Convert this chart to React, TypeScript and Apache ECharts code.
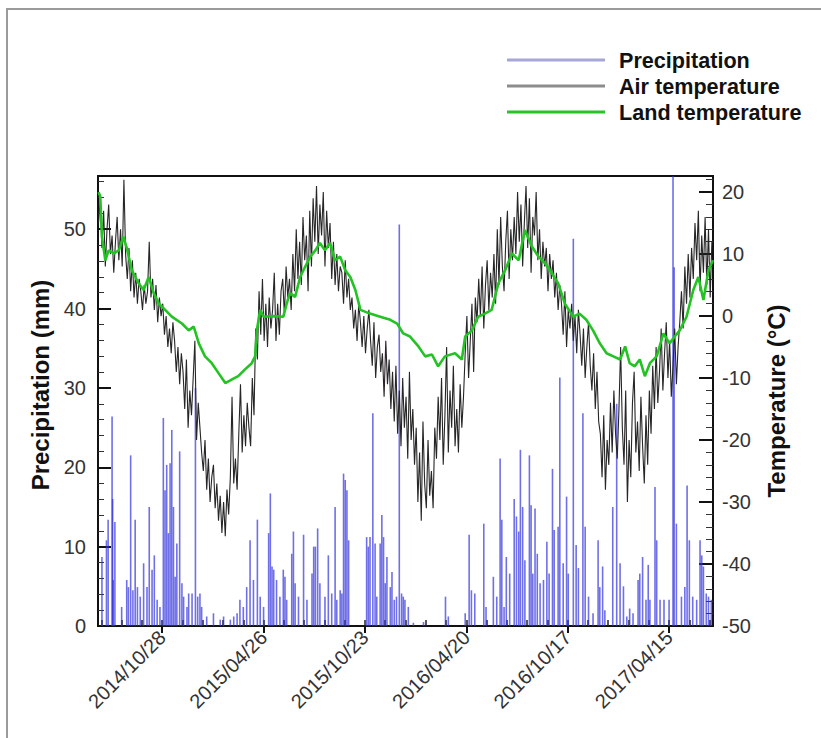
import React, { useEffect, useRef } from "react";
import * as echarts from "echarts";

// Day 0 = 2014/10/28 ; x values are day offsets from that date
const BASE_DATE_UTC = Date.UTC(2014, 9, 28);
const DAY_MIN = -114;
const DAY_MAX = 978;
const labelDays = [0, 180, 360, 540, 720, 900];

// Air temperature (°C), read every 3 days starting at day -113
const airStartDay = -113;
const airStepDays = 3;
const airTemp = [
  15, 19, 11, 17, 8, 14, 18, 10, 13, 7,
  12, 16, 9, 14, 8, 22, 10, 6, 11, 4,
  9, 3, 7, 2, 6, 4, 1, 5, 2, 4,
  12, 3, 6, 1, 5, -1, 3, 0, 2, -3,
  0, -5, -2, -6, -1, -4, -9, -5, -11, -6,
  -9, -15, -7, -18, -12, -16, -10, -4, -20, -14,
  -18, -22, -25, -20, -28, -23, -30, -26, -24, -31,
  -27, -33, -29, -35, -30, -35.5, -28, -32, -26, -13,
  -27, -23, -28, -19, -11, -22, -16, -21, -14, -18,
  -21, -10, -16, -2, -7, 4, -3, 6, -4, 2,
  -5, 3, -2, 1, 7, -4, 2, -3, 4, 6,
  0, 8, 3, 6, 1, 10, 4, 14, 6, 12,
  5, 16, 9, 13, 4, 17, 8, 19, 12, 21,
  10, 18, 13, 20, 8, 17, 11, 15, 6, 12,
  5, 10, 4, 8, 7, 2, 9, 3, 6, 1,
  3, -2, 1, -4, 2, -1, -5, 0, -6, -2,
  1, -4, -8, -1, -10, -5, -3, -9, -6, -13,
  -4, -11, -7, -15, -9, -17, -8, -19, -12, -21,
  -10, -18, -13, -23, -9, -20, -15, -24, -18, -30,
  -22, -33, -17, -27, -31, -20, -29, -25, -31, -18,
  -23, -13, -20, -10, -24, -16, -5, -22, -12, -18,
  -8, -21, -15, -22, -11, -18, -13, -6, 0, -10,
  -4, 2, -9, 3, -1, 6, 0, 8, -2, 5,
  9, 1, 7, 3, 10, 2, 14, 5, 16, 8,
  4, 12, 17, 6, 14, 9, 16, 10, 20, 12,
  18, 8, 15, 21, 11, 19, 7, 16, 13, 20,
  9, 14, 6, 12, 8, 11, 4, 10, 6, 9,
  3, 7, 1, 5, 2, -3, 4, -5, 1, -2,
  2, -4, 0, -6, 1, -3, -8, -2, -10, -5,
  -1, -8, -12, -6, -15, -9, -17, -19, -26, -16,
  -28, -20, -24, -14, -22, -12, -19, -23, -15, -5,
  -18, -24, -12, -30, -20, -26, -14, -9, -22, -17,
  -25, -13, -21, -27, -16, -24, -12, -19, -8, -15,
  -5, -14, -9, -2, -12, -6, -1, -10, -4, -13,
  -8, -2, -11, -5, -1, 4, -2, 8, 2, 10,
  3, 11, 6, 15, 9, 17, 4, 13, 7, 16,
  5, 14, 3, 12,
];

// Land temperature (°C): [day, value]
const landTemp: [number, number][] = [
  [-113, 20], [-110, 19.3], [-107, 12.8], [-101, 9.0], [-95, 10.6], [-86, 10.1],
  [-77, 10.6], [-69, 12.8], [-63, 11.0], [-54, 7.4], [-42, 5.3], [-33, 4.2],
  [-24, 6.3], [-15, 3.7], [-6, 2.0], [0, 1.5], [17, -0.1], [35, -1.2],
  [47, -2.3], [56, -1.7], [65, -4.4], [76, -6.5], [88, -7.6], [100, -9.2],
  [112, -10.8], [124, -10.2], [135, -9.7], [147, -8.6], [159, -7.6], [165, -6.5],
  [168, -2.3], [174, 1.0], [180, -0.1], [198, 0.0], [215, -0.1], [221, 2.0],
  [227, 3.7], [236, 3.1], [245, 6.3], [254, 8.0], [263, 9.6], [272, 10.6],
  [280, 11.8], [289, 10.6], [298, 11.8], [307, 9.0], [316, 9.6], [325, 7.4],
  [334, 6.3], [343, 4.2], [352, 1.0], [369, 0.4], [387, -0.1], [405, -0.6],
  [417, -1.2], [428, -2.8], [440, -3.3], [455, -4.9], [467, -6.5], [479, -6.2],
  [490, -8.1], [502, -6.5], [520, -6.0], [532, -7.0], [538, -3.3], [550, -2.3],
  [561, -0.1], [573, 0.4], [585, 1.0], [597, 5.3], [609, 7.4], [621, 10.1],
  [633, 9.0], [644, 13.9], [656, 11.3], [668, 9.6], [680, 8.5], [692, 6.9],
  [703, 5.3], [715, 2.0], [730, -0.1], [741, 0.4], [753, -0.6], [765, -2.3],
  [777, -4.4], [789, -6.0], [801, -6.5], [813, -7.0], [822, -4.9], [830, -7.6],
  [839, -8.1], [848, -7.0], [857, -9.7], [866, -7.6], [878, -6.5], [890, -2.8],
  [901, -4.4], [910, -3.3], [919, -2.3], [931, -0.1], [943, 4.2], [952, 6.3],
  [961, 2.6], [970, 7.4], [978, 9.0],
];

// Precipitation (mm): [day, value]
const precipitation: [number, number][] = [
  [-107, 8.7], [-99, 10.8], [-96, 13.4], [-89, 26.4], [-88, 16], [-87, 5.8], [-84, 13.1],
  [-72, 2.4], [-63, 5.8], [-60, 4.9], [-56, 21.5], [-52, 4.5], [-48, 13.4], [-44, 4.9],
  [-39, 3.7], [-33, 7.9], [-27, 4.9], [-23, 15], [-18, 7.1], [-14, 8.9], [-9, 3.3],
  [-4, 2.4], [2, 26.2], [5, 17.1], [8, 20.3], [11, 11.7], [14, 20.5], [17, 24.7],
  [20, 15], [23, 6.2], [26, 10.4], [31, 22], [35, 5.4], [38, 3.7], [44, 2.4], [47, 4.1],
  [53, 4.1], [59, 30], [63, 3.7], [67, 4.1], [70, 2.4], [79, 1.2], [91, 1.6], [103, 0.8],
  [109, 1.2], [121, 0.8], [127, 1.2], [133, 1.6], [138, 3.3], [144, 2.4], [150, 4.9],
  [156, 10.8], [162, 5.8], [169, 13.4], [174, 3.7], [180, 2.4], [189, 11.7], [192, 16.7],
  [195, 7.5], [198, 7.1], [203, 5.8], [209, 3.7], [215, 7.1], [218, 6.2], [221, 3.3],
  [230, 9.1], [233, 11.9], [236, 5.4], [242, 3.7], [251, 11.5], [257, 3.3], [266, 6.6],
  [269, 10], [272, 10], [276, 12.3], [280, 5.4], [289, 3.7], [295, 8.9], [301, 4.1],
  [307, 15], [310, 3.3], [316, 4.5], [319, 4.1], [322, 19.2], [325, 18.4], [328, 17.1],
  [331, 10.8], [363, 11.2], [366, 10], [369, 11.2], [374, 26.8], [378, 10.4], [381, 3.7],
  [387, 10.4], [390, 14], [393, 11.2], [396, 5.4], [399, 8.7], [405, 4.9], [408, 6.8],
  [412, 3.3], [416, 3.7], [421, 50.6], [425, 4.1], [428, 3.7], [431, 3.3], [437, 2.4],
  [446, 0.4], [464, 0.5], [503, 3.7], [508, 1.2], [538, 1.6], [545, 11.5], [549, 4.5],
  [555, 4.1], [571, 12.9], [575, 2.4], [588, 6.2], [594, 3.7], [600, 21.1], [603, 13.4],
  [607, 2.4], [611, 8.7], [617, 6.6], [625, 16], [629, 13.8], [633, 11.9], [636, 22.2],
  [640, 15], [644, 8.3], [652, 21.5], [655, 15.2], [658, 6.6], [662, 14.8], [666, 9.1],
  [671, 5.4], [677, 5.8], [683, 10.6], [687, 6.6], [693, 19.8], [696, 12.1], [703, 12.5],
  [706, 31.3], [712, 7.9], [718, 16.3], [721, 6.6], [730, 48.8], [735, 10.2], [739, 7.3],
  [747, 26.8], [751, 12.5], [757, 3.7], [765, 1.6], [774, 10.8], [777, 4.9], [782, 7.5],
  [786, 2], [800, 15], [807, 28], [813, 7.9], [819, 5], [825, 1.2], [830, 2.2], [836, 1.6],
  [845, 5.8], [848, 6.6], [853, 8.7], [859, 3.3], [863, 7.7], [866, 3.3], [875, 17.5],
  [878, 10.8], [884, 3.3], [891, 3.3], [900, 3.3], [907, 60], [909, 45.2], [913, 12.9],
  [922, 3.7], [928, 4.9], [932, 17.7], [936, 10.8], [942, 3.7], [949, 3.3], [955, 10.8],
  [958, 8.9], [961, 7.5], [966, 4.1], [970, 3.7], [975, 3.3],
];

const FONT = "'Liberation Sans', Arial, sans-serif";

function dayToLabel(d: number): string {
  const dt = new Date(BASE_DATE_UTC + Math.round(d) * 86400000);
  const mm = String(dt.getUTCMonth() + 1).padStart(2, "0");
  const dd = String(dt.getUTCDate()).padStart(2, "0");
  return `${dt.getUTCFullYear()}/${mm}/${dd}`;
}

export default function App() {
  const ref = useRef<HTMLDivElement>(null);

  useEffect(() => {
    if (!ref.current) return;
    const chart = echarts.init(ref.current, undefined, { renderer: "svg" });

    const minorDays: number[] = [];
    for (let d = -108; d <= DAY_MAX; d += 36) minorDays.push(d);

    const airData = airTemp.map((t, i) => [airStartDay + i * airStepDays, t]);

    chart.setOption({
      animation: false,
      backgroundColor: "#ffffff",
      textStyle: { fontFamily: FONT },
      graphic: [
        {
          type: "rect",
          shape: { x: 7, y: 9, width: 840, height: 760 },
          style: { fill: "none", stroke: "#9a9a9a", lineWidth: 2 },
          silent: true,
        },
      ],
      legend: {
        orient: "vertical",
        left: 502,
        top: 44,
        icon: "rect",
        itemWidth: 98,
        itemHeight: 3,
        itemGap: 4,
        selectedMode: false,
        textStyle: {
          fontFamily: FONT,
          fontWeight: "bold",
          fontSize: 21.6,
          color: "#111",
          padding: [0, 0, 0, 9],
        },
        data: [
          { name: "Precipitation", itemStyle: { color: "#a6a6d8" } },
          { name: "Air temperature", itemStyle: { color: "#8c8c8c" } },
          { name: "Land temperature", itemStyle: { color: "#27c327" } },
        ],
      },
      grid: {
        left: 98,
        right: 108,
        top: 176,
        bottom: 112,
        show: true,
        borderColor: "#111",
        borderWidth: 2,
        backgroundColor: "transparent",
      },
      xAxis: [
        {
          type: "value",
          min: DAY_MIN,
          max: DAY_MAX,
          position: "bottom",
          axisLine: { show: true, onZero: false, lineStyle: { color: "#111", width: 2 } },
          axisTick: {
            show: true,
            customValues: labelDays,
            length: 7,
            lineStyle: { color: "#111", width: 2 },
          },
          axisLabel: {
            customValues: labelDays,
            rotate: 45,
            margin: 8,
            fontSize: 20,
            color: "#333",
            fontFamily: FONT,
            formatter: (v: number) => dayToLabel(v),
          },
          splitLine: { show: false },
        },
        {
          type: "value",
          min: DAY_MIN,
          max: DAY_MAX,
          position: "bottom",
          axisLine: { show: false, onZero: false },
          axisTick: {
            show: true,
            inside: true,
            customValues: minorDays,
            length: 6,
            lineStyle: { color: "#222", width: 1.5 },
          },
          axisLabel: { show: false },
          splitLine: { show: false },
        },
      ],
      yAxis: [
        {
          type: "value",
          min: 0,
          max: 56.7,
          interval: 10,
          position: "left",
          name: "Precipitation (mm)",
          nameLocation: "middle",
          nameRotate: 90,
          nameGap: 43,
          nameTextStyle: {
            fontFamily: FONT,
            fontWeight: "bold",
            fontSize: 24,
            color: "#111",
            padding: [0, 0, 0, 32],
          },
          axisLine: { show: true, onZero: false, lineStyle: { color: "#111", width: 2 } },
          axisTick: { show: true, inside: true, length: 13, lineStyle: { color: "#111", width: 2 } },
          minorTick: { show: true, splitNumber: 5, length: 6, lineStyle: { color: "#333", width: 1 } },
          axisLabel: {
            fontSize: 20,
            color: "#333",
            margin: 12,
            fontFamily: FONT,
            formatter: (v: number) => (Math.abs(v % 10) < 1e-6 ? String(v) : ""),
          },
          splitLine: { show: false },
        },
        {
          type: "value",
          min: -50,
          max: 22.6,
          interval: 10,
          position: "right",
          name: "Temperature (°C)",
          nameLocation: "middle",
          nameRotate: 90,
          nameGap: 51,
          nameTextStyle: {
            fontFamily: FONT,
            fontWeight: "bold",
            fontSize: 24,
            color: "#111",
          },
          axisLine: { show: true, onZero: false, lineStyle: { color: "#111", width: 2 } },
          axisTick: { show: true, inside: true, length: 14, lineStyle: { color: "#111", width: 2 } },
          minorTick: { show: true, splitNumber: 5, length: 7, lineStyle: { color: "#333", width: 1 } },
          axisLabel: {
            fontSize: 20,
            color: "#333",
            margin: 9,
            fontFamily: FONT,
            formatter: (v: number) => (Math.abs(v % 10) < 1e-6 ? String(v) : ""),
          },
          splitLine: { show: false },
        },
      ],
      series: [
        {
          name: "Precipitation",
          type: "bar",
          xAxisIndex: 0,
          yAxisIndex: 0,
          barWidth: 1.6,
          data: precipitation,
          itemStyle: { color: "rgba(50,50,222,0.7)" },
          z: 2,
        },
        {
          name: "Air temperature",
          type: "line",
          xAxisIndex: 0,
          yAxisIndex: 1,
          data: airData,
          symbol: "none",
          lineStyle: { color: "#262626", width: 1.1 },
          itemStyle: { color: "#8c8c8c" },
          z: 3,
        },
        {
          name: "Land temperature",
          type: "line",
          xAxisIndex: 0,
          yAxisIndex: 1,
          data: landTemp,
          symbol: "none",
          lineStyle: { color: "#22c322", width: 2.6 },
          itemStyle: { color: "#27c327" },
          z: 4,
        },
      ],
    });

    return () => chart.dispose();
  }, []);

  return (
    <div
      ref={ref}
      style={{ position: "absolute", left: 0, top: 0, width: 821, height: 738 }}
    />
  );
}
